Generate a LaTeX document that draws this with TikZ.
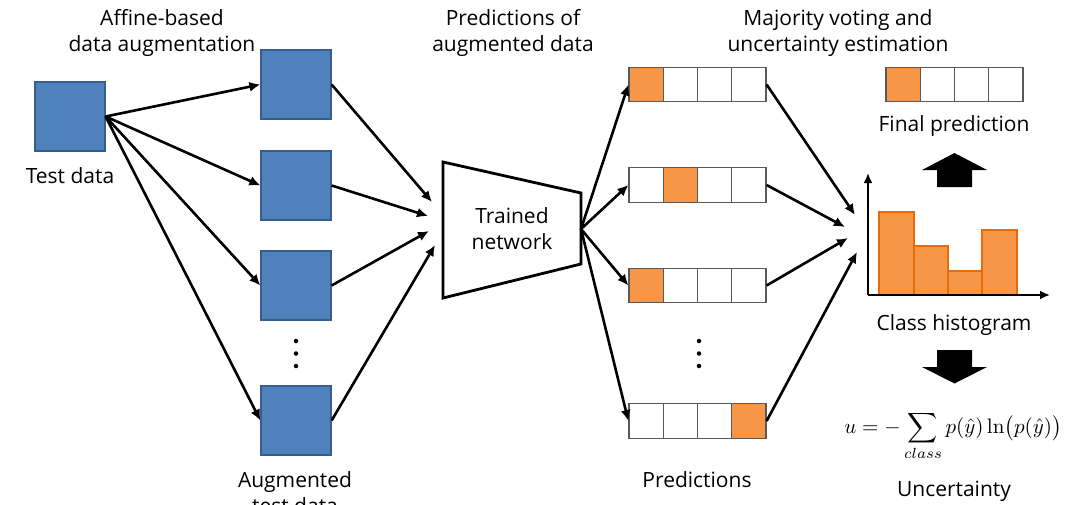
\documentclass[tikz,border=0pt]{standalone}
\usepackage[no-math]{fontspec}
\usepackage{graphicx}
\setmainfont{Open Sans}
\usetikzlibrary{arrows.meta}
\definecolor{blueFill}{RGB}{79,129,189}
\definecolor{blueEdge}{RGB}{56,93,138}
\definecolor{orangeFill}{RGB}{247,150,70}
\definecolor{orangeEdge}{RGB}{228,108,10}
\definecolor{cellEdge}{RGB}{89,89,89}
\tikzset{
  sample/.style={draw=blueEdge, fill=blueFill, line width=1.2pt, minimum width=70pt, minimum height=69pt, inner sep=0pt},
  cell/.style={draw=cellEdge, fill=white, line width=1.2pt, minimum width=34.25pt, minimum height=34.5pt, inner sep=0pt},
  lbl/.style={font=\fontsize{21}{26}\selectfont, align=center, inner sep=0pt},
  arr/.style={line width=2.6pt, -{Latex[length=11pt,width=10pt]}},
  dot/.style={fill=black, circle, minimum size=4.5pt, inner sep=0pt},
  bar/.style={draw=orangeEdge, fill=orangeFill, line width=1.6pt},
  block/.style={fill=black},
}
% one row of four class cells; #4 is the highlighted class
\newcommand\classrow[4]{%
  \foreach \k in {1,...,4}{%
    \pgfmathsetmacro\cx{#2+(\k-0.5)*34.25}%
    \ifnum\k=#4\relax
      \node[cell, fill=orangeFill] (#1c\k) at (\cx,#3) {};
    \else
      \node[cell] (#1c\k) at (\cx,#3) {};
    \fi
  }}
\begin{document}
\begin{tikzpicture}[x=1pt,y=-1pt]
\useasboundingbox (0,0) rectangle (1087,504);
\clip (0,0) rectangle (1087,504);

% input and augmented samples
\node[sample] (test) at (70,116.5) {};
\node[sample] (a1) at (296,84.5) {};
\node[sample] (a2) at (296,185.5) {};
\node[sample] (a3) at (296,285.5) {};
\node[sample] (a4) at (296,420.5) {};
\node[dot] (ad1) at (296,341) {};
\node[dot] (ad2) at (296,353.5) {};
\node[dot] (ad3) at (296,366) {};

\foreach \i in {1,...,4} \draw[arr] (test.east) -- (a\i.west);

% trained network
\node[lbl] (net) at (512,229) {Trained\\network};
\draw[line width=2.8pt, line join=miter] (443,162) -- (581,193) -- (581,264) -- (443,298) -- cycle;
\coordinate (netout) at (581,229);
\coordinate (in1) at (432,202);
\coordinate (in2) at (428,216);
\coordinate (in3) at (429,231);
\coordinate (in4) at (435,245);
\foreach \i in {1,...,4} \draw[arr] (a\i.east) -- (in\i);

% per-sample predictions
\classrow{p1}{629}{84.5}{1}
\classrow{p2}{629}{185}{2}
\classrow{p3}{629}{285.5}{1}
\classrow{p4}{629}{421}{4}
\node[dot] (pd1) at (699,341) {};
\node[dot] (pd2) at (699,353.5) {};
\node[dot] (pd3) at (699,366) {};
\foreach \i in {1,...,4} \draw[arr] (netout) -- (p\i c1.west);

% voting into the histogram
\coordinate (h1) at (855,215);
\coordinate (h2) at (845,227);
\coordinate (h3) at (848,238);
\coordinate (h4) at (857,252);
\foreach \i in {1,...,4} \draw[arr] (p\i c4.east) -- (h\i);

% class histogram
\coordinate (origin) at (868,295);
\coordinate (ytop) at (868,173);
\coordinate (xend) at (1050,295);
\draw[bar] (879,295) rectangle (914,212);
\draw[bar] (914,295) rectangle (948,246);
\draw[bar] (948,295) rectangle (982,271);
\draw[bar] (982,295) rectangle (1017,230);
\draw[line width=2.4pt, -{Latex[length=10pt,width=9pt]}] (origin) -- (ytop);
\draw[line width=2.4pt, -{Latex[length=10pt,width=9pt]}] (origin) -- (xend);

% final prediction
\classrow{f}{886}{84.5}{1}

% block arrows
\fill[block] (937,187) -- (937,170) -- (922,170) -- (954.5,153) -- (987,170) -- (972,170) -- (972,187) -- cycle;
\fill[block] (937,350) -- (972,350) -- (972,367) -- (987,367) -- (954.5,383.5) -- (922,367) -- (937,367) -- cycle;

% labels
\node[lbl] (t1) at (162,33) {Affine-based\\data augmentation};
\node[lbl] (t2) at (513,33) {Predictions of\\augmented data};
\node[lbl] (t3) at (838,33) {Majority voting and\\uncertainty estimation};
\node[lbl] (ltest) at (70,176) {Test data};
\node[lbl] (laug) at (295,493) {Augmented\\test data};
\node[lbl] (lpred) at (697,480) {Predictions};
\node[lbl] (lfinal) at (954,126) {Final prediction};
\node[lbl] (lhist) at (954,325) {Class histogram};
\node[inner sep=0pt] (eq) at (953,436)
  {\scalebox{2.1}{$\displaystyle u=-\sum_{class} p(\hat{y})\ln\bigl(p(\hat{y})\bigr)$}};
\node[lbl] (lunc) at (954,491) {Uncertainty};
\end{tikzpicture}
\end{document}
